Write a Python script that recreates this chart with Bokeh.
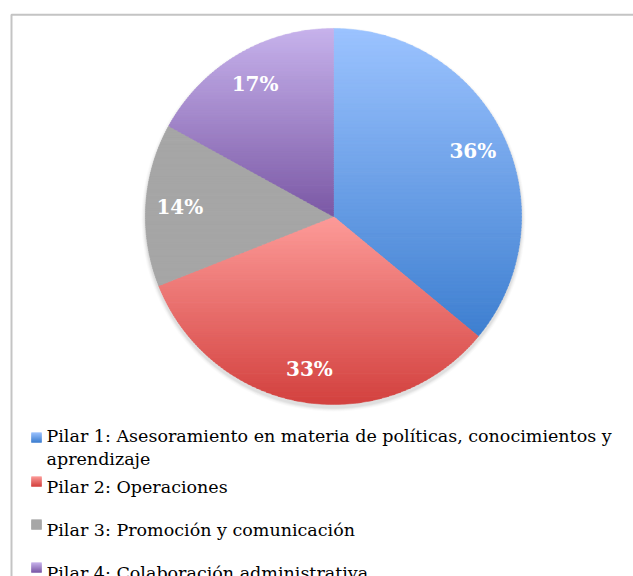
import numpy as np
from bokeh.plotting import figure
from bokeh.models import Range1d
from bokeh.core.properties import value
from bokeh.embed import file_html
from bokeh.resources import INLINE

# ---- data ----
categories = [
    "Pilar 1: Asesoramiento en materia de políticas, conocimientos y\naprendizaje",
    "Pilar 2: Operaciones",
    "Pilar 3: Promoción y comunicación",
    "Pilar 4: Colaboración administrativa",
]
shares = [36, 33, 14, 17]
pct_labels = ["36%", "33%", "14%", "17%"]
top_colors = ["#9cc3ff", "#fd9b99", "#a6a6a6", "#c7b3ec"]
bottom_colors = ["#3e7fd0", "#d3423f", "#a6a6a6", "#7b58a5"]

W, H = 633, 576
CX, CY, R = 333, 360, 188
SERIF = "DejaVu Serif"


def hex2rgb(h):
    h = h.lstrip("#")
    return np.array([int(h[i:i + 2], 16) for i in (0, 2, 4)], dtype=float)


def mix(c0, c1, t):
    a, b = hex2rgb(c0), hex2rgb(c1)
    c = a + (b - a) * t
    return "#%02x%02x%02x" % tuple(int(round(v)) for v in c)


def clip(poly, y0, keep_above):
    out = []
    n = len(poly)
    for i in range(n):
        P, Q = poly[i], poly[(i + 1) % n]
        inP = P[1] >= y0 if keep_above else P[1] <= y0
        inQ = Q[1] >= y0 if keep_above else Q[1] <= y0
        if inP:
            out.append(P)
        if inP != inQ and Q[1] != P[1]:
            t = (y0 - P[1]) / (Q[1] - P[1])
            out.append((P[0] + t * (Q[0] - P[0]), y0))
    return out


def gradient_bands(poly, c_top, c_bot, nb):
    ys_all = [p[1] for p in poly]
    ymin, ymax = min(ys_all), max(ys_all)
    xs, ys, cols = [], [], []
    step = (ymax - ymin) / nb
    for k in range(nb):
        hi = ymax - k * step
        lo = hi - step - 0.7
        part = clip(clip(poly, lo, True), hi, False)
        if len(part) < 3:
            continue
        xs.append([p[0] for p in part])
        ys.append([p[1] for p in part])
        cols.append(mix(c_top, c_bot, (k + 0.5) / nb))
    return xs, ys, cols


p = figure(width=W, height=H, output_backend="svg", toolbar_location=None,
           x_range=Range1d(0, W), y_range=Range1d(0, H), min_border=0)
p.axis.visible = False
p.grid.visible = False
p.outline_line_color = None
p.background_fill_color = "white"
p.border_fill_color = "white"

# frame border (top and left visible)
p.line(x=[11, 11, W + 5], y=[-5, 561.7, 561.7], line_color="#c4c4c4", line_width=2)

# soft shadow
for k, a in enumerate([0.10, 0.08, 0.06, 0.04]):
    p.circle(x=[CX], y=[CY - 3], radius=R + 1 + k, fill_color="#808080",
             fill_alpha=a, line_color=None)

# pie slices with vertical gradients
total = float(sum(shares))
start = 90.0
all_xs, all_ys, all_cols = [], [], []
label_x, label_y = [], []
for i, s in enumerate(shares):
    sweep = s / total * 360.0
    end = start - sweep
    angs = np.radians(np.linspace(start, end, 160))
    poly = [(CX, CY)] + [(CX + R * np.cos(a), CY + R * np.sin(a)) for a in angs]
    xs, ys, cols = gradient_bands(poly, top_colors[i], bottom_colors[i], 90)
    all_xs += xs
    all_ys += ys
    all_cols += cols
    mid = np.radians((start + end) / 2)
    label_x.append(CX + 154 * np.cos(mid))
    label_y.append(CY + 154 * np.sin(mid))
    start = end

p.patches(xs=all_xs, ys=all_ys, fill_color=all_cols, line_color=all_cols, line_width=0.5)

p.text(x=label_x, y=label_y, text=pct_labels, text_color="white",
       text_font=value(SERIF), text_font_style="bold", text_font_size="20px",
       text_align="center", text_baseline="middle")

# legend
baselines = [576 - 442, 576 - 486, 576 - 529, 576 - 572]
text_y = [576 - 447, 576 - 486, 576 - 529, 576 - 572]
mx_xs, mx_ys, mx_cols = [], [], []
for i, b in enumerate(baselines):
    sq = [(31, b), (41, b), (41, b + 10), (31, b + 10)]
    xs, ys, cols = gradient_bands(sq, top_colors[i], bottom_colors[i], 10)
    mx_xs += xs
    mx_ys += ys
    mx_cols += cols
p.patches(xs=mx_xs, ys=mx_ys, fill_color=mx_cols, line_color=mx_cols, line_width=0.3)

p.text(x=[46] * 4, y=text_y, text=categories, text_color="#000000",
       text_font=value(SERIF), text_font_size="17.5px",
       text_align="left", text_baseline="alphabetic", text_line_height=1.15)

open("out.html", "w").write(file_html(p, INLINE))
